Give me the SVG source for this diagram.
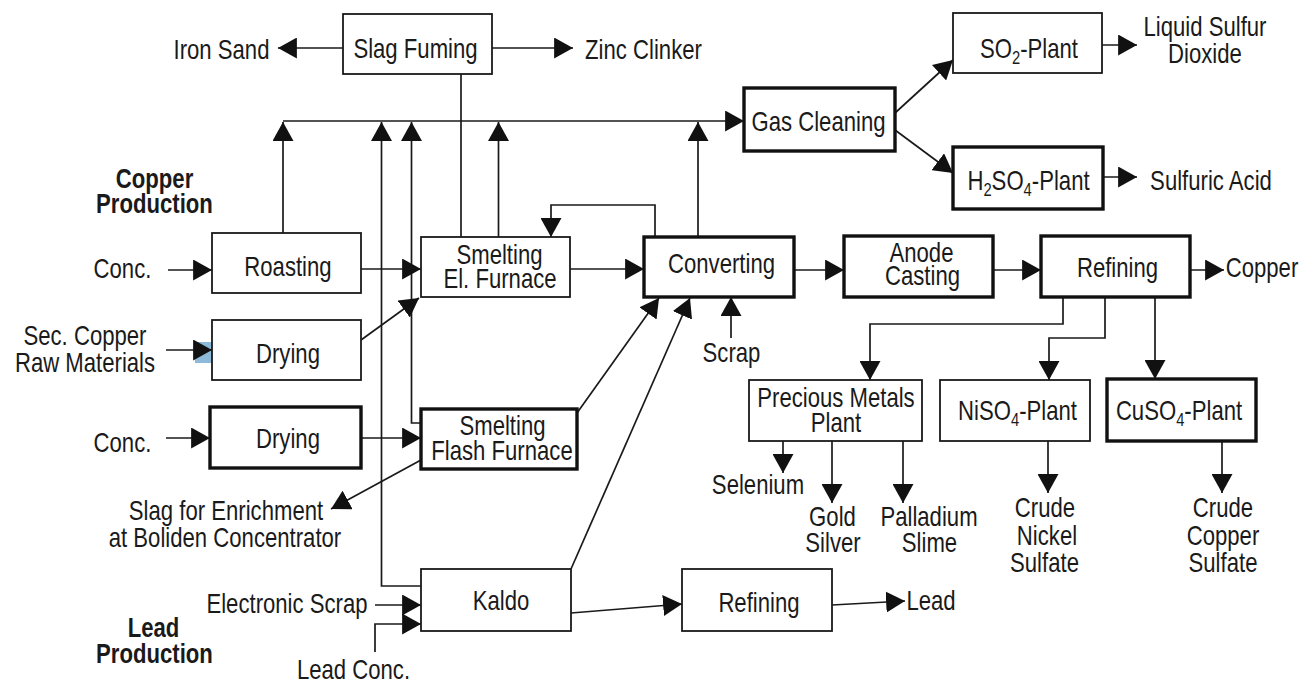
<svg xmlns="http://www.w3.org/2000/svg" width="1309" height="682" viewBox="0 0 1309 682">
<style>
.bx{fill:#fff;stroke:#1a1a1a;stroke-width:1.8}
.bk{fill:#fff;stroke:#111;stroke-width:3.4}
.t{font-family:"Liberation Sans",Arial,sans-serif;font-size:27px;fill:#1a1a1a;text-anchor:middle;transform-box:fill-box;transform-origin:center;transform:scaleX(0.82)}
.b{font-weight:bold}
.sub{font-size:18px}
.c{fill:none;stroke:#1a1a1a;stroke-width:1.7}
.a{fill:none;stroke:#1a1a1a;stroke-width:1.7;marker-end:url(#ah)}
</style>
<defs>
<marker id="ah" markerUnits="userSpaceOnUse" markerWidth="19" markerHeight="21" viewBox="0 0 18 20" refX="18" refY="10" orient="auto">
<path d="M0,0 L18,10 L0,20 z" fill="#111"/>
</marker>
</defs>
<rect width="1309" height="682" fill="#fff"/>
<rect x="195" y="342" width="17" height="21" fill="#8dbad8"/>
<g id="connectors">
<line class="a" x1="343" y1="48" x2="278" y2="48"/>
<line class="a" x1="492" y1="48" x2="573" y2="48"/>
<line class="c" x1="461" y1="74" x2="461" y2="237"/>
<line class="a" x1="283" y1="121" x2="744" y2="121"/>
<line class="a" x1="283" y1="233" x2="283" y2="122"/>
<polyline class="a" points="421,586 381.5,586 381.5,122"/>
<polyline class="a" points="421,423 411.5,423 411.5,122"/>
<line class="a" x1="498.5" y1="237" x2="498.5" y2="122"/>
<line class="a" x1="698" y1="237" x2="698" y2="122"/>
<polyline class="a" points="655,237 655,205 551,205 551,237"/>
<line class="a" x1="168" y1="270" x2="212" y2="270"/>
<line class="a" x1="361" y1="269" x2="421" y2="269"/>
<line class="a" x1="570" y1="269" x2="644" y2="269"/>
<line class="a" x1="166" y1="350" x2="212" y2="350"/>
<line class="a" x1="361" y1="340" x2="419" y2="298"/>
<line class="a" x1="166" y1="438" x2="210" y2="438"/>
<line class="a" x1="361" y1="438" x2="421" y2="438"/>
<line class="a" x1="577" y1="413" x2="659" y2="298"/>
<line class="a" x1="571" y1="569" x2="690" y2="298"/>
<line class="a" x1="421" y1="460" x2="331" y2="509"/>
<line class="a" x1="731" y1="338" x2="731" y2="297"/>
<line class="a" x1="794" y1="270" x2="844" y2="270"/>
<line class="a" x1="993" y1="270" x2="1041" y2="270"/>
<line class="a" x1="1190" y1="270" x2="1224" y2="270"/>
<polyline class="a" points="1063,297 1063,324 870,324 870,380"/>
<polyline class="a" points="1105,297 1105,338 1049,338 1049,380"/>
<line class="a" x1="1155" y1="297" x2="1155" y2="379"/>
<line class="a" x1="783" y1="441" x2="783" y2="473"/>
<line class="a" x1="832" y1="441" x2="832" y2="503"/>
<line class="a" x1="903" y1="441" x2="903" y2="503"/>
<line class="a" x1="1048" y1="441" x2="1048" y2="493"/>
<line class="a" x1="1222" y1="441" x2="1222" y2="493"/>
<line class="a" x1="375" y1="605" x2="421" y2="605"/>
<line class="c" x1="421" y1="605" x2="458" y2="605"/>
<polyline class="a" points="375,652 375,624 421,624"/>
<line class="a" x1="571" y1="613" x2="682" y2="604"/>
<line class="a" x1="832" y1="605" x2="905" y2="601"/>
<line class="a" x1="895" y1="113" x2="953" y2="60"/>
<line class="a" x1="895" y1="130" x2="953" y2="173"/>
<line class="a" x1="1102" y1="45" x2="1137" y2="45"/>
<line class="a" x1="1103" y1="177" x2="1137" y2="177"/>
</g>
<g id="slag-fuming"><rect class="bx" x="343" y="14" width="149" height="60"/><text class="t" x="415.5" y="58">Slag Fuming</text></g>
<g id="gas-cleaning"><rect class="bk" x="744" y="88" width="151" height="63"/><text class="t" x="818.5" y="131">Gas Cleaning</text></g>
<g id="so2-plant"><rect class="bx" x="953" y="13" width="149" height="60"/><text class="t" x="1029" y="58">SO<tspan class="sub" dy="6">2</tspan><tspan dy="-6">-Plant</tspan></text></g>
<g id="h2so4-plant"><rect class="bk" x="953" y="147" width="150" height="62"/><text class="t" x="1028.5" y="190">H<tspan class="sub" dy="6">2</tspan><tspan dy="-6">SO</tspan><tspan class="sub" dy="6">4</tspan><tspan dy="-6">-Plant</tspan></text></g>
<g id="roasting"><rect class="bx" x="212" y="233" width="149" height="60"/><text class="t" x="288" y="276">Roasting</text></g>
<g id="smelting-el"><rect class="bx" x="421" y="237" width="149" height="60"/><text class="t" x="499.5" y="264">Smelting</text><text class="t" x="500" y="288">El. Furnace</text></g>
<g id="converting"><rect class="bk" x="644" y="237" width="150" height="60"/><text class="t" x="721.5" y="273">Converting</text></g>
<g id="anode-casting"><rect class="bk" x="844" y="236" width="149" height="61"/><text class="t" x="921.5" y="262">Anode</text><text class="t" x="922.5" y="285">Casting</text></g>
<g id="refining-cu"><rect class="bk" x="1041" y="236" width="149" height="61"/><text class="t" x="1117.5" y="277">Refining</text></g>
<g id="drying-sec"><rect class="bx" x="212" y="320" width="149" height="60"/><text class="t" x="288" y="363">Drying</text></g>
<g id="drying-conc"><rect class="bk" x="210" y="407" width="151" height="61"/><text class="t" x="288" y="448">Drying</text></g>
<g id="smelting-flash"><rect class="bk" x="421" y="409" width="156" height="60"/><text class="t" x="502.5" y="435">Smelting</text><text class="t" x="502" y="460">Flash Furnace</text></g>
<g id="precious-metals"><rect class="bx" x="749" y="380" width="173" height="61"/><text class="t" x="836" y="407">Precious Metals</text><text class="t" x="836" y="432">Plant</text></g>
<g id="niso4-plant"><rect class="bx" x="940" y="380" width="150" height="61"/><text class="t" x="1017.5" y="420">NiSO<tspan class="sub" dy="6">4</tspan><tspan dy="-6">-Plant</tspan></text></g>
<g id="cuso4-plant"><rect class="bk" x="1107" y="379" width="149" height="62"/><text class="t" x="1179" y="420">CuSO<tspan class="sub" dy="6">4</tspan><tspan dy="-6">-Plant</tspan></text></g>
<g id="kaldo"><rect class="bx" x="421" y="569" width="150" height="62"/><text class="t" x="501" y="610">Kaldo</text></g>
<g id="refining-pb"><rect class="bx" x="682" y="569" width="150" height="62"/><text class="t" x="759" y="612">Refining</text></g>
<g id="labels">
<text class="t" x="221.5" y="59">Iron Sand</text>
<text class="t" x="643.5" y="59">Zinc Clinker</text>
<text class="t" x="1205" y="36">Liquid Sulfur</text>
<text class="t" x="1205" y="63">Dioxide</text>
<text class="t" x="1211" y="190">Sulfuric Acid</text>
<text class="t b" x="154.5" y="188">Copper</text>
<text class="t b" x="154.5" y="213">Production</text>
<text class="t" x="122.5" y="278">Conc.</text>
<text class="t" x="85" y="345">Sec. Copper</text>
<text class="t" x="85" y="372">Raw Materials</text>
<text class="t" x="122.5" y="452">Conc.</text>
<text class="t" x="226" y="520">Slag for Enrichment</text>
<text class="t" x="225" y="547">at Boliden Concentrator</text>
<text class="t" x="287" y="613">Electronic Scrap</text>
<text class="t" x="353.5" y="679">Lead Conc.</text>
<text class="t b" x="153.5" y="637">Lead</text>
<text class="t b" x="154.5" y="663">Production</text>
<text class="t" x="1262" y="277">Copper</text>
<text class="t" x="731.5" y="362">Scrap</text>
<text class="t" x="758" y="494">Selenium</text>
<text class="t" x="832.5" y="526">Gold</text>
<text class="t" x="833" y="552">Silver</text>
<text class="t" x="929" y="526">Palladium</text>
<text class="t" x="929.5" y="552">Slime</text>
<text class="t" x="1045" y="517">Crude</text>
<text class="t" x="1047" y="545">Nickel</text>
<text class="t" x="1044.5" y="572">Sulfate</text>
<text class="t" x="1223" y="517">Crude</text>
<text class="t" x="1223" y="545">Copper</text>
<text class="t" x="1223" y="572">Sulfate</text>
<text class="t" x="931" y="610">Lead</text>
</g>
</svg>
